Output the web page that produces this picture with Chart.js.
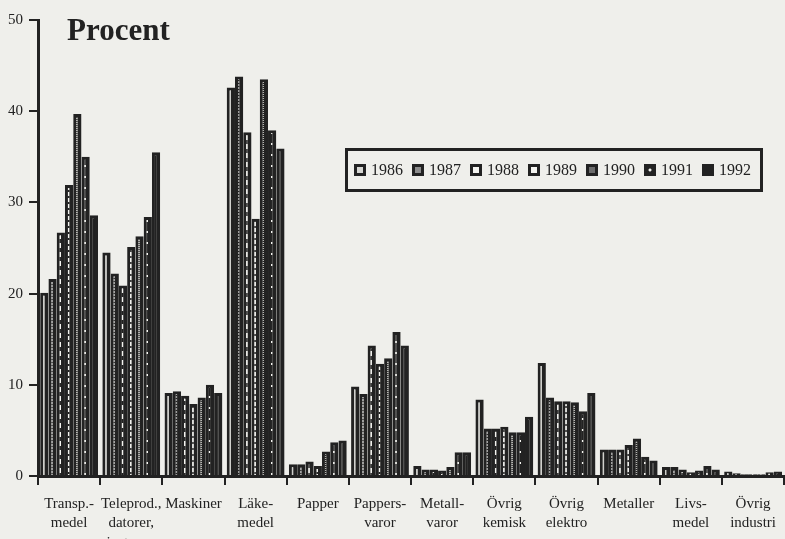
<!DOCTYPE html>
<html>
<head>
<meta charset="utf-8">
<script src="https://cdn.jsdelivr.net/npm/chart.js@4"></script>
<style>
  html, body { margin: 0; padding: 0; background: #efefeb; overflow: hidden; }
  #wrap { position: relative; width: 785px; height: 539px; }
  #title { position: absolute; left: 67px; top: 14px; font: bold 31px 'Liberation Serif', serif; line-height: 31px; color: #222; }
  #legend { position: absolute; left: 345px; top: 148px; width: 406px; height: 38px; border: 3px solid #222;
    display: flex; align-items: center; padding-left: 6px; box-sizing: content-box;
    font: 16px 'Liberation Serif', serif; color: #222; }
  #legend span.item { display: flex; align-items: center; width: 60px; }
  #legend i { display: inline-block; width: 6px; height: 6px; border: 3px solid #222; margin-right: 5px; }
</style>
</head>
<body>
<div id="wrap">
  <canvas id="chart" width="785" height="539"></canvas>
  <div id="title">Procent</div>
  <div id="legend"></div>
</div>
<script>
const categories = [
  ['Transp.-', 'medel'], ['Teleprod.,', 'datorer,', 'instrum.'], ['Maskiner'], ['Läke-', 'medel'],
  ['Papper'], ['Pappers-', 'varor'], ['Metall-', 'varor'], ['Övrig', 'kemisk'],
  ['Övrig', 'elektro'], ['Metaller'], ['Livs-', 'medel'], ['Övrig', 'industri'],
]
const years = ['1986', '1987', '1988', '1989', '1990', '1991', '1992']

const v1986 = [20.1, 24.5, 9.1, 42.6, 1.3, 9.8, 1.1, 8.4, 12.4, 2.9, 1.0, 0.5]
const v1987 = [21.6, 22.2, 9.3, 43.8, 1.3, 9.0, 0.7, 5.2, 8.6, 2.9, 1.0, 0.3]
const v1988 = [26.7, 20.9, 8.8, 37.7, 1.6, 14.3, 0.7, 5.2, 8.2, 2.9, 0.7, 0.2]
const v1989 = [31.9, 25.1, 7.9, 28.2, 1.1, 12.3, 0.6, 5.4, 8.2, 3.4, 0.4, 0.2]
const v1990 = [39.7, 26.3, 8.6, 43.5, 2.7, 12.9, 1.0, 4.8, 8.1, 4.1, 0.6, 0.2]
const v1991 = [35.0, 28.4, 10.0, 37.9, 3.7, 15.8, 2.6, 4.8, 7.1, 2.1, 1.1, 0.4]
const v1992 = [28.6, 35.5, 9.1, 35.9, 3.9, 14.3, 2.6, 6.5, 9.1, 1.7, 0.7, 0.5]
const series = [v1986, v1987, v1988, v1989, v1990, v1991, v1992]

const INK = '#222'

// stripe patterns seen inside each bar (vertical runs of colour)
const makePattern = (runs, w = 1) => {
  const h = runs.reduce((s, r) => s + r[1], 0)
  const c = document.createElement('canvas')
  c.width = w
  c.height = h
  const g = c.getContext('2d')
  let y = 0
  runs.forEach(([col, len]) => {
    g.fillStyle = col
    g.fillRect(0, y, w, len)
    y += len
  })
  return g.createPattern(c, 'repeat')
}

const fills = [
  '#cfcfcb',
  makePattern([['#9c9c9c', 2], [INK, 1]]),
  makePattern([['#f4f4f0', 5], [INK, 4]]),
  makePattern([['#f4f4f0', 4], [INK, 2]]),
  makePattern([['#b4b4b0', 1], [INK, 1]]),
  makePattern([['#f4f4f0', 2], [INK, 9]]),
  INK,
]
const swatch = ['#d6d6d2', '#8c8c8c', '#f4f4f0', '#f4f4f0', '#6c6c6c', INK, INK]

const legend = document.getElementById('legend')
years.forEach((y, i) => {
  const inner = i === 5 ? `background:radial-gradient(circle, #f4f4f0 1.2px, ${INK} 1.8px)` : `background:${swatch[i]}`
  legend.insertAdjacentHTML('beforeend', `<span class="item"><i style="${inner}"></i>${y}</span>`)
})

new Chart(document.getElementById('chart'), {
  type: 'bar',
  data: {
    labels: categories,
    datasets: years.map((y, i) => ({
      label: y,
      data: series[i],
      backgroundColor: fills[i],
      borderColor: INK,
      borderWidth: { left: 3, right: 4, top: 3, bottom: 0 },
      borderSkipped: 'bottom',
      barPercentage: 1,
      categoryPercentage: 0.93,
    })),
  },
  options: {
    responsive: false,
    animation: false,
    layout: { padding: { top: 20, right: 0, left: 0, bottom: 0 } },
    plugins: { legend: { display: false }, tooltip: { enabled: false } },
    scales: {
      x: {
        afterFit: (s) => { s.height = 63 },
        border: { color: INK, width: 3 },
        grid: { offset: true, drawOnChartArea: false, color: INK, lineWidth: 2, tickLength: 9 },
        ticks: {
          color: INK,
          padding: 9,
          autoSkip: false,
          maxRotation: 0,
          font: { family: 'Liberation Serif', size: 15, lineHeight: 1.3 },
        },
      },
      y: {
        min: 0,
        max: 50,
        afterFit: (s) => { s.width = 38 },
        border: { color: INK, width: 3 },
        grid: { drawOnChartArea: false, color: INK, lineWidth: 2, tickLength: 9 },
        ticks: {
          stepSize: 10,
          color: INK,
          padding: 6,
          font: { family: 'Liberation Serif', size: 15 },
        },
      },
    },
  },
})
</script>
</body>
</html>
